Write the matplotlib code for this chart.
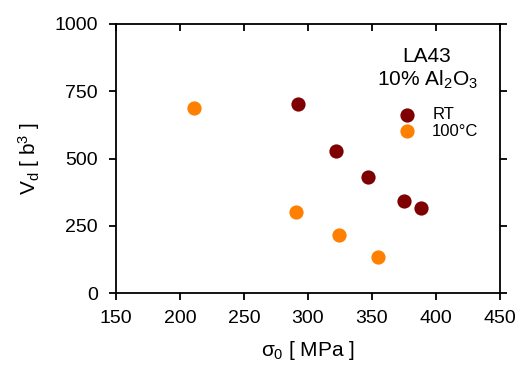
import matplotlib.pyplot as plt

plt.rcParams['font.family'] = ['Liberation Sans', 'DejaVu Sans']
plt.rcParams['mathtext.fontset'] = 'custom'
plt.rcParams['mathtext.rm'] = 'Liberation Sans'
plt.rcParams['mathtext.it'] = 'Liberation Sans'

# datos
rt_sigma = [292.5, 321.5, 346.5, 375, 388]
rt_vd = [703, 528, 431, 342, 316]
c100_sigma = [211, 291, 324.5, 354.5]
c100_vd = [688, 302, 214, 135]

xticks = [150, 200, 250, 300, 350, 400, 450]
yticks = [0, 250, 500, 750, 1000]

fig = plt.figure(figsize=(5.2, 3.71), dpi=100)
ax = fig.add_axes([116 / 520, 1 - 293 / 371, 384 / 520, 269 / 371])

ax.scatter(rt_sigma, rt_vd, s=105, color='#7f0000', zorder=3, label='RT', linewidths=0)
ax.scatter(c100_sigma, c100_vd, s=105, color='#ff8000', zorder=3, label='100°C', linewidths=0)

ax.set_xlim(150, 450)
ax.set_ylim(0, 1000)
ax.set_xticks(xticks)
ax.set_yticks(yticks)
# ticks hacia afuera abajo/izquierda, hacia adentro arriba/derecha
ax.tick_params(direction='out', length=5, width=1.3, labelsize=14)
ax.tick_params(axis='x', pad=7)
ax.tick_params(axis='y', pad=8)
ax.tick_params(which='major', top=True, right=True)
for t in ax.xaxis.get_major_ticks():
    t.tick2line.set_marker(3)   # TICKDOWN -> hacia adentro arriba
for t in ax.yaxis.get_major_ticks():
    t.tick2line.set_marker(1)   # TICKLEFT -> hacia adentro derecha
for s in ax.spines.values():
    s.set_linewidth(1.3)

ax.set_xlabel(r'$\sigma_0$ [ MPa ]', fontsize=15, labelpad=9)
ax.set_ylabel(r'V$_\mathrm{d}$ [ b$^3$ ]', fontsize=15, labelpad=9)

ax.text(427 / 520, 1 - 62 / 371, 'LA43', transform=fig.transFigure, ha='center', va='baseline', fontsize=15)
ax.text(427 / 520, 1 - 86 / 371, '10% Al$_2$O$_3$', transform=fig.transFigure, ha='center', va='baseline', fontsize=15)
ax.legend(loc='upper left', bbox_to_anchor=(398 / 520, 1 - 107 / 371), bbox_transform=fig.transFigure,
          frameon=False, fontsize=12, handlelength=1.05, handletextpad=1.0, labelspacing=0.1,
          borderpad=0, borderaxespad=0, scatterpoints=1)

plt.savefig('out.png', dpi=100)
plt.close()
